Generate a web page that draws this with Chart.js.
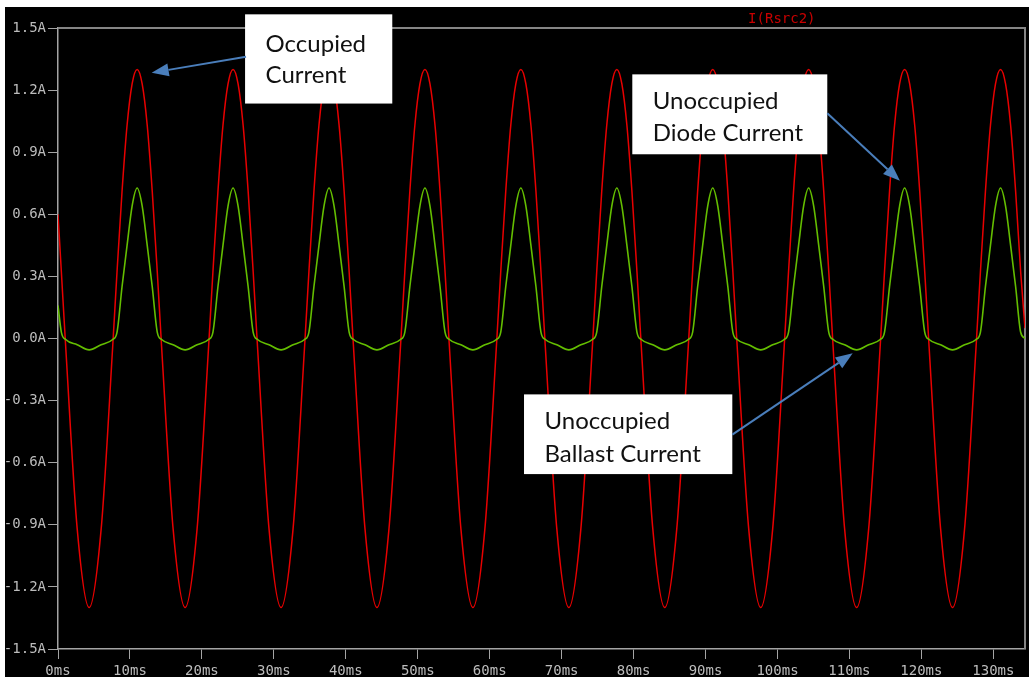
<!DOCTYPE html>
<html>
<head>
<meta charset="utf-8">
<script src="https://cdn.jsdelivr.net/npm/chart.js@4/dist/chart.umd.min.js"></script>
<style>
  html, body { margin: 0; padding: 0; background: #ffffff; }
  #wrap { width: 1029px; height: 677px; }
</style>
</head>
<body>
<div id="wrap"><canvas id="c" width="1029" height="677"></canvas></div>
<script>
// ---- data ----
const timeMs = [
  0, 0.47, 1.07, 2.67, 4.33,
  6.00, 7.60, 8.20, 8.90, 9.60, 10.30, 11.00, 11.70, 12.40, 13.10, 13.80, 14.40, 16.00, 17.67,
  19.33, 20.93, 21.53, 22.23, 22.93, 23.63, 24.33, 25.03, 25.73, 26.43, 27.13, 27.73, 29.33, 31.00,
  32.67, 34.27, 34.87, 35.57, 36.27, 36.97, 37.67, 38.37, 39.07, 39.77, 40.47, 41.07, 42.67, 44.33,
  46.00, 47.60, 48.20, 48.90, 49.60, 50.30, 51.00, 51.70, 52.40, 53.10, 53.80, 54.40, 56.00, 57.67,
  59.33, 60.93, 61.53, 62.23, 62.93, 63.63, 64.33, 65.03, 65.73, 66.43, 67.13, 67.73, 69.33, 71.00,
  72.67, 74.27, 74.87, 75.57, 76.27, 76.97, 77.67, 78.37, 79.07, 79.77, 80.47, 81.07, 82.67, 84.33,
  86.00, 87.60, 88.20, 88.90, 89.60, 90.30, 91.00, 91.70, 92.40, 93.10, 93.80, 94.40, 96.00, 97.67,
  99.33, 100.93, 101.53, 102.23, 102.93, 103.63, 104.33, 105.03, 105.73, 106.43, 107.13, 107.73, 109.33, 111.00,
  112.67, 114.27, 114.87, 115.57, 116.27, 116.97, 117.67, 118.37, 119.07, 119.77, 120.47, 121.07, 122.67, 124.33,
  126.00, 127.60, 128.20, 128.90, 129.60, 130.30, 131.00, 131.70, 132.40, 133.10, 133.80, 134.40
];

// I(Rsrc2) - occupied current (red), amps
const occupiedCurrent = [
  0.60, 0.32, -0.04, -0.92, -1.30,
  -0.92, -0.04, 0.32, 0.71, 1.03, 1.23, 1.30, 1.23, 1.03, 0.71, 0.32, -0.04, -0.92, -1.30,
  -0.92, -0.04, 0.32, 0.71, 1.03, 1.23, 1.30, 1.23, 1.03, 0.71, 0.32, -0.04, -0.92, -1.30,
  -0.92, -0.04, 0.32, 0.71, 1.03, 1.23, 1.30, 1.23, 1.03, 0.71, 0.32, -0.04, -0.92, -1.30,
  -0.92, -0.04, 0.32, 0.71, 1.03, 1.23, 1.30, 1.23, 1.03, 0.71, 0.32, -0.04, -0.92, -1.30,
  -0.92, -0.04, 0.32, 0.71, 1.03, 1.23, 1.30, 1.23, 1.03, 0.71, 0.32, -0.04, -0.92, -1.30,
  -0.92, -0.04, 0.32, 0.71, 1.03, 1.23, 1.30, 1.23, 1.03, 0.71, 0.32, -0.04, -0.92, -1.30,
  -0.92, -0.04, 0.32, 0.71, 1.03, 1.23, 1.30, 1.23, 1.03, 0.71, 0.32, -0.04, -0.92, -1.30,
  -0.92, -0.04, 0.32, 0.71, 1.03, 1.23, 1.30, 1.23, 1.03, 0.71, 0.32, -0.04, -0.92, -1.30,
  -0.92, -0.04, 0.32, 0.71, 1.03, 1.23, 1.30, 1.23, 1.03, 0.71, 0.32, -0.04, -0.92, -1.30,
  -0.92, -0.04, 0.32, 0.71, 1.03, 1.23, 1.30, 1.23, 1.03, 0.71, 0.32, 0.05
];

// unoccupied diode / ballast current (green), amps
const diodeCurrent = [
  0.16, 0.03, -0.005, -0.03, -0.055,
  -0.03, -0.005, 0.03, 0.25, 0.45, 0.64, 0.727, 0.64, 0.45, 0.25, 0.03, -0.005, -0.03, -0.055,
  -0.03, -0.005, 0.03, 0.25, 0.45, 0.64, 0.727, 0.64, 0.45, 0.25, 0.03, -0.005, -0.03, -0.055,
  -0.03, -0.005, 0.03, 0.25, 0.45, 0.64, 0.727, 0.64, 0.45, 0.25, 0.03, -0.005, -0.03, -0.055,
  -0.03, -0.005, 0.03, 0.25, 0.45, 0.64, 0.727, 0.64, 0.45, 0.25, 0.03, -0.005, -0.03, -0.055,
  -0.03, -0.005, 0.03, 0.25, 0.45, 0.64, 0.727, 0.64, 0.45, 0.25, 0.03, -0.005, -0.03, -0.055,
  -0.03, -0.005, 0.03, 0.25, 0.45, 0.64, 0.727, 0.64, 0.45, 0.25, 0.03, -0.005, -0.03, -0.055,
  -0.03, -0.005, 0.03, 0.25, 0.45, 0.64, 0.727, 0.64, 0.45, 0.25, 0.03, -0.005, -0.03, -0.055,
  -0.03, -0.005, 0.03, 0.25, 0.45, 0.64, 0.727, 0.64, 0.45, 0.25, 0.03, -0.005, -0.03, -0.055,
  -0.03, -0.005, 0.03, 0.25, 0.45, 0.64, 0.727, 0.64, 0.45, 0.25, 0.03, -0.005, -0.03, -0.055,
  -0.03, -0.005, 0.03, 0.25, 0.45, 0.64, 0.727, 0.64, 0.45, 0.25, 0.03, 0.0
];

const xTicks = [0, 10, 20, 30, 40, 50, 60, 70, 80, 90, 100, 110, 120, 130];
const yTicks = [-1.5, -1.2, -0.9, -0.6, -0.3, 0.0, 0.3, 0.6, 0.9, 1.2, 1.5];

const traceTitles = [
  { text: 'I(Rsrc1)', t: 33.4, color: '#4fae00', dy: -6 },
  { text: 'I(Rsrc2)', t: 100.6, color: '#c80000', dy: -9 }
];

// callouts, anchored in data coordinates (ms, A)
const callouts = [
  { lines: ['Occupied', 'Current'], box: [26.0, 1.566, 46.46, 1.135], tail: [26.13, 1.361], tip: [13.02, 1.284], base: [37.4, 69] },
  { lines: ['Unoccupied', 'Diode Current'], box: [79.82, 1.276, 106.92, 0.890], tail: [106.92, 1.088], tip: [117.02, 0.762], base: [35, 67] },
  { lines: ['Unoccupied', 'Ballast Current'], box: [64.77, -0.270, 93.72, -0.655], tail: [93.72, -0.464], tip: [110.45, -0.0715], base: [34.5, 67.5] }
];

// ---- chart ----
const axisGray = '#a4a4a4';
const labelGray = '#bcbcbc';
const monoFont = { family: 'DejaVu Sans Mono', size: 14 };

const bgPlugin = {
  id: 'bg',
  beforeDraw(chart) {
    const ctx = chart.ctx;
    ctx.save();
    ctx.fillStyle = '#ffffff';
    ctx.fillRect(0, 0, chart.width, chart.height);
    ctx.fillStyle = '#000000';
    ctx.fillRect(5, 7, chart.width - 5, chart.height - 7);
    ctx.restore();
  },
  beforeDatasetsDraw(chart) {
    const ctx = chart.ctx, a = chart.chartArea;
    ctx.save();
    ctx.strokeStyle = '#858585';
    ctx.lineWidth = 2;
    ctx.beginPath();
    ctx.moveTo(a.left, a.top);
    ctx.lineTo(a.right, a.top);
    ctx.lineTo(a.right, a.bottom);
    ctx.stroke();
    ctx.restore();
  }
};

const overlayPlugin = {
  id: 'overlay',
  afterDraw(chart) {
    const ctx = chart.ctx, a = chart.chartArea;
    const xs = chart.scales.x, ys = chart.scales.y;
    ctx.save();
    // trace titles
    ctx.font = '14px "DejaVu Sans Mono"';
    ctx.textAlign = 'center';
    ctx.textBaseline = 'middle';
    traceTitles.forEach(tt => {
      ctx.fillStyle = tt.color;
      ctx.fillText(tt.text, xs.getPixelForValue(tt.t), a.top + tt.dy);
    });
    // callout boxes
    callouts.forEach(c => {
      const x0 = xs.getPixelForValue(c.box[0]);
      const y0 = ys.getPixelForValue(c.box[1]);
      const x1 = xs.getPixelForValue(c.box[2]);
      const y1 = ys.getPixelForValue(c.box[3]);
      ctx.fillStyle = '#ffffff';
      ctx.fillRect(x0, y0, x1 - x0, y1 - y0);
      ctx.fillStyle = '#111111';
      ctx.font = '24px Lato';
      ctx.textAlign = 'left';
      ctx.textBaseline = 'alphabetic';
      ctx.fillText(c.lines[0], x0 + 20.5, y0 + c.base[0]);
      ctx.fillText(c.lines[1], x0 + 20.5, y0 + c.base[1]);
      // arrow
      const tx = xs.getPixelForValue(c.tail[0]), ty = ys.getPixelForValue(c.tail[1]);
      const px = xs.getPixelForValue(c.tip[0]), py = ys.getPixelForValue(c.tip[1]);
      const ang = Math.atan2(py - ty, px - tx);
      const headLen = 17, headHalf = 6.5;
      const bx = px - headLen * Math.cos(ang), by = py - headLen * Math.sin(ang);
      ctx.strokeStyle = '#4a7ebb';
      ctx.fillStyle = '#4a7ebb';
      ctx.lineWidth = 2;
      ctx.beginPath();
      ctx.moveTo(tx, ty);
      ctx.lineTo(bx, by);
      ctx.stroke();
      ctx.beginPath();
      ctx.moveTo(px, py);
      ctx.lineTo(bx + headHalf * Math.sin(ang), by - headHalf * Math.cos(ang));
      ctx.lineTo(bx - headHalf * Math.sin(ang), by + headHalf * Math.cos(ang));
      ctx.closePath();
      ctx.fill();
    });
    ctx.restore();
  }
};

new Chart(document.getElementById('c'), {
  type: 'line',
  data: {
    datasets: [
      {
        label: 'I(Rsrc1)',
        data: timeMs.map((t, i) => ({ x: t, y: diodeCurrent[i] })),
        borderColor: 'rgb(100,190,0)',
        borderWidth: 1.6,
        pointRadius: 0,
        cubicInterpolationMode: 'monotone',
        fill: false
      },
      {
        label: 'I(Rsrc2)',
        data: timeMs.map((t, i) => ({ x: t, y: occupiedCurrent[i] })),
        borderColor: 'rgb(232,0,0)',
        borderWidth: 1.5,
        pointRadius: 0,
        cubicInterpolationMode: 'monotone',
        fill: false
      }
    ]
  },
  options: {
    responsive: false,
    animation: false,
    devicePixelRatio: 1,
    layout: { padding: { left: 5, top: 28, right: 4, bottom: 0 } },
    plugins: { legend: { display: false }, tooltip: { enabled: false }, title: { display: false } },
    scales: {
      x: {
        type: 'linear',
        min: 0,
        max: 134.4,
        afterBuildTicks: s => { s.ticks = xTicks.map(v => ({ value: v })); },
        afterFit: s => { s.height = 28; },
        ticks: {
          callback: v => v + 'ms',
          color: labelGray,
          font: monoFont,
          maxRotation: 0,
          autoSkip: false,
          padding: 4
        },
        grid: { drawOnChartArea: false, drawTicks: true, tickLength: 10, color: axisGray, lineWidth: 1 },
        border: { display: true, color: axisGray, width: 1.5 }
      },
      y: {
        type: 'linear',
        min: -1.5,
        max: 1.5,
        afterBuildTicks: s => { s.ticks = yTicks.map(v => ({ value: v })); },
        afterFit: s => { s.width = 53; },
        ticks: {
          callback: v => Number(v).toFixed(1) + 'A',
          color: labelGray,
          font: monoFont,
          autoSkip: false,
          padding: 2
        },
        grid: { drawOnChartArea: false, drawTicks: true, tickLength: 10, color: axisGray, lineWidth: 1 },
        border: { display: true, color: axisGray, width: 1.5 }
      }
    }
  },
  plugins: [bgPlugin, overlayPlugin]
});
</script>
</body>
</html>
